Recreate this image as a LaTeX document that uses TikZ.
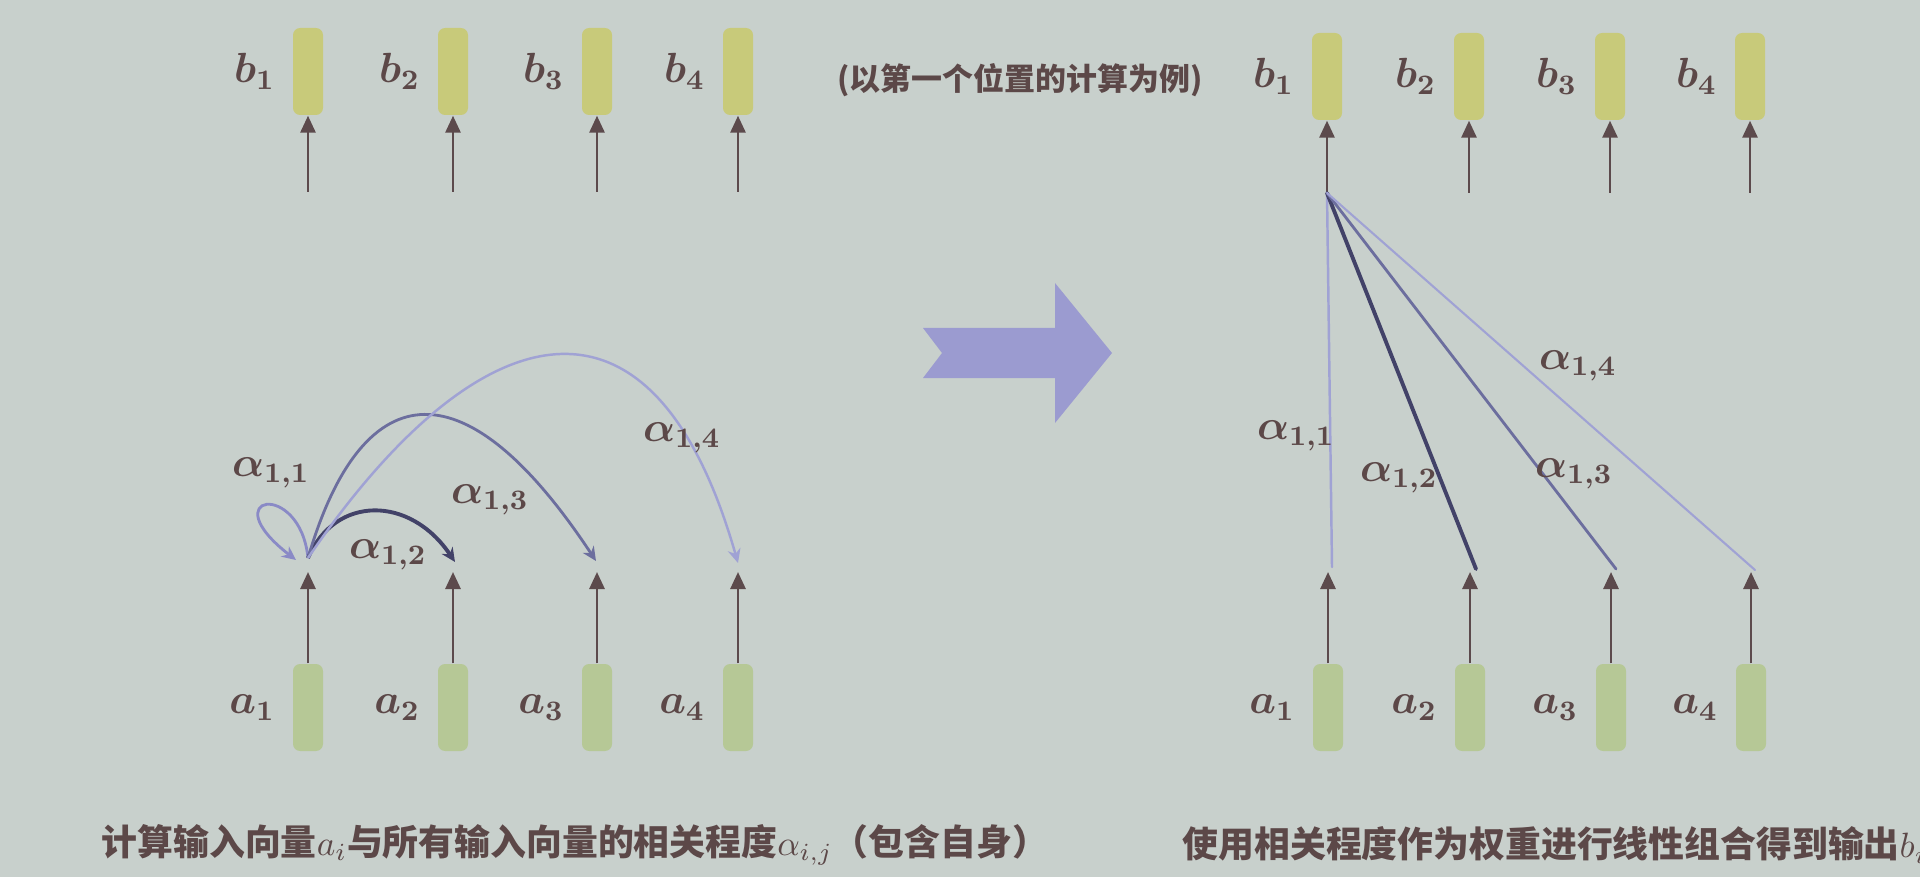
\documentclass[tikz,border=0pt]{standalone}
\usepackage{amsmath}
\usepackage{fontspec}
\newfontfamily\cjk{Noto Sans CJK SC}
\usepackage{tikz}
\usetikzlibrary{arrows.meta,positioning}

\definecolor{bg}{RGB}{200,208,204}
\definecolor{barY}{RGB}{200,202,122}
\definecolor{barG}{RGB}{182,200,150}
\definecolor{ink}{RGB}{92,72,72}
\definecolor{arr}{RGB}{92,74,76}
\definecolor{bigarr}{RGB}{155,155,208}
\definecolor{wdark}{RGB}{66,66,104}
\definecolor{wmid}{RGB}{108,110,158}
\definecolor{wlight}{RGB}{138,138,198}
\definecolor{wpale}{RGB}{160,162,212}

\begin{document}
\begin{tikzpicture}[
  ybar/.style={rectangle,rounded corners=2pt,fill=barY,minimum width=0.30cm,minimum height=0.87cm,inner sep=0pt},
  gbar/.style={rectangle,rounded corners=2pt,fill=barG,minimum width=0.30cm,minimum height=0.87cm,inner sep=0pt},
  lbl/.style={font=\boldmath\fontsize{12}{14}\selectfont,text=ink,inner sep=1pt},
  captext/.style={font=\cjk\bfseries\fontsize{10.2}{12}\selectfont,text=ink,inner sep=0pt},
  flow/.style={-{Triangle[length=1.7mm,width=1.5mm]},line width=0.8pt,draw=arr},
  tip/.style={-{Stealth[length=1.4mm,width=1.3mm]}},
  fan/.style={line cap=round}
]
  \useasboundingbox (0,0) rectangle (19.2,8.77);
  \fill[bg] (0,0) rectangle (19.2,8.77);

  % left half: outputs, inputs
  \node[ybar] (b1) at (3.08,8.055) {};
  \node[ybar] (b2) at (4.53,8.055) {};
  \node[ybar] (b3) at (5.97,8.055) {};
  \node[ybar] (b4) at (7.38,8.055) {};
  \node[lbl,left=0.13cm of b1] (lb1) {$b_1$};
  \node[lbl,left=0.13cm of b2] (lb2) {$b_2$};
  \node[lbl,left=0.13cm of b3] (lb3) {$b_3$};
  \node[lbl,left=0.13cm of b4] (lb4) {$b_4$};
  \node[gbar] (a1) at (3.08,1.695) {};
  \node[gbar] (a2) at (4.53,1.695) {};
  \node[gbar] (a3) at (5.97,1.695) {};
  \node[gbar] (a4) at (7.38,1.695) {};
  \node[lbl,left=0.13cm of a1] (la1) {$a_1$};
  \node[lbl,left=0.13cm of a2] (la2) {$a_2$};
  \node[lbl,left=0.13cm of a3] (la3) {$a_3$};
  \node[lbl,left=0.13cm of a4] (la4) {$a_4$};

  \coordinate (tb1) at (3.08,6.85);
  \coordinate (tb2) at (4.53,6.85);
  \coordinate (tb3) at (5.97,6.85);
  \coordinate (tb4) at (7.38,6.85);
  \coordinate (ta1) at (3.08,3.05);
  \coordinate (ta2) at (4.53,3.05);
  \coordinate (ta3) at (5.97,3.05);
  \coordinate (ta4) at (7.38,3.05);
  \draw[flow] (tb1) -- (b1);
  \draw[flow] (tb2) -- (b2);
  \draw[flow] (tb3) -- (b3);
  \draw[flow] (tb4) -- (b4);
  \draw[flow] (a1) -- (ta1);
  \draw[flow] (a2) -- (ta2);
  \draw[flow] (a3) -- (ta3);
  \draw[flow] (a4) -- (ta4);

  % relevance arcs from the first position
  \coordinate (q) at (3.08,3.19);
  \coordinate (k1) at (2.96,3.17);
  \coordinate (k2) at (4.55,3.15);
  \coordinate (k3) at (5.96,3.16);
  \coordinate (k4) at (7.38,3.14);
  \draw[tip,draw=wlight,line width=0.8pt] (q) .. controls (3.00,3.98) and (2.12,3.82) .. (k1);
  \draw[tip,draw=wdark,line width=1.1pt] (q) .. controls (3.35,3.82) and (4.10,3.82) .. (k2);
  \draw[tip,draw=wmid,line width=0.8pt] (q) .. controls (3.60,4.97) and (4.60,5.22) .. (k3);
  \draw[tip,draw=wpale,line width=0.7pt] (q) .. controls (4.70,5.57) and (6.50,6.22) .. (k4);
  \node[lbl] (w11) at (2.71,4.04) {$\alpha_{1,1}$};
  \node[lbl] (w12) at (3.88,3.22) {$\alpha_{1,2}$};
  \node[lbl] (w13) at (4.90,3.77) {$\alpha_{1,3}$};
  \node[lbl] (w14) at (6.82,4.39) {$\alpha_{1,4}$};

  % middle
  \node[captext,font=\cjk\bfseries\fontsize{8.8}{10}\selectfont] (note) at (10.20,7.97) {(以第一个位置的计算为例)};
  \fill[bigarr] (9.23,5.49) -- (9.42,5.24) -- (9.23,4.99) -- (10.55,4.99) -- (10.55,4.54)
    -- (11.12,5.24) -- (10.55,5.94) -- (10.55,5.49) -- cycle;

  % right half: weighted sum
  \node[ybar] (rb1) at (13.27,8.005) {};
  \node[ybar] (rb2) at (14.69,8.005) {};
  \node[ybar] (rb3) at (16.10,8.005) {};
  \node[ybar] (rb4) at (17.50,8.005) {};
  \node[lbl,left=0.13cm of rb1] (lrb1) {$b_1$};
  \node[lbl,left=0.13cm of rb2] (lrb2) {$b_2$};
  \node[lbl,left=0.13cm of rb3] (lrb3) {$b_3$};
  \node[lbl,left=0.13cm of rb4] (lrb4) {$b_4$};
  \node[gbar] (ra1) at (13.28,1.695) {};
  \node[gbar] (ra2) at (14.70,1.695) {};
  \node[gbar] (ra3) at (16.11,1.695) {};
  \node[gbar] (ra4) at (17.51,1.695) {};
  \node[lbl,left=0.13cm of ra1] (lra1) {$a_1$};
  \node[lbl,left=0.13cm of ra2] (lra2) {$a_2$};
  \node[lbl,left=0.13cm of ra3] (lra3) {$a_3$};
  \node[lbl,left=0.13cm of ra4] (lra4) {$a_4$};

  \coordinate (rtb1) at (13.27,6.84);
  \coordinate (rtb2) at (14.69,6.84);
  \coordinate (rtb3) at (16.10,6.84);
  \coordinate (rtb4) at (17.50,6.84);
  \coordinate (rta1) at (13.28,3.05);
  \coordinate (rta2) at (14.70,3.05);
  \coordinate (rta3) at (16.11,3.05);
  \coordinate (rta4) at (17.51,3.05);
  \draw[flow] (rtb1) -- (rb1);
  \draw[flow] (rtb2) -- (rb2);
  \draw[flow] (rtb3) -- (rb3);
  \draw[flow] (rtb4) -- (rb4);
  \draw[flow] (ra1) -- (rta1);
  \draw[flow] (ra2) -- (rta2);
  \draw[flow] (ra3) -- (rta3);
  \draw[flow] (ra4) -- (rta4);

  \coordinate (e1) at (13.32,3.10);
  \coordinate (e2) at (14.76,3.08);
  \coordinate (e3) at (16.16,3.08);
  \coordinate (e4) at (17.55,3.07);
  \draw[fan,draw=wpale,line width=0.7pt] (rtb1) -- (e1);
  \draw[fan,draw=wdark,line width=1.1pt] (rtb1) -- (e2);
  \draw[fan,draw=wmid,line width=0.8pt] (rtb1) -- (e3);
  \draw[fan,draw=wpale,line width=0.6pt] (rtb1) -- (e4);
  \node[lbl] (rw11) at (12.96,4.41) {$\alpha_{1,1}$};
  \node[lbl] (rw12) at (13.99,3.99) {$\alpha_{1,2}$};
  \node[lbl] (rw13) at (15.74,4.03) {$\alpha_{1,3}$};
  \node[lbl] (rw14) at (15.78,5.11) {$\alpha_{1,4}$};

  % captions
  \node[captext,anchor=west] (capl) at (1.01,0.32)
    {计算输入向量$a_i$与所有输入向量的相关程度$\alpha_{i,j}$（包含自身）};
  \node[captext,anchor=west] (capr) at (11.82,0.32)
    {使用相关程度作为权重进行线性组合得到输出$b_i$};
\end{tikzpicture}
\end{document}
